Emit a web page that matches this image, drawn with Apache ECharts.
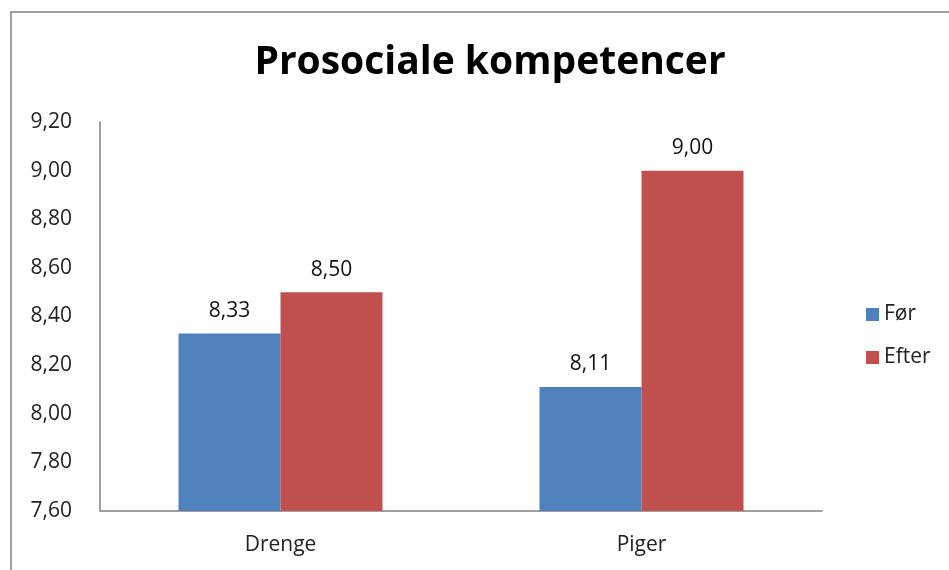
<!DOCTYPE html>
<html>
<head>
<meta charset="utf-8">
<script src="https://cdn.jsdelivr.net/npm/echarts@6/dist/echarts.min.js"></script>
<style>
html,body{margin:0;padding:0;background:#fff;}
#chart{width:949px;height:570px;}
</style>
</head>
<body>
<div id="chart"></div>
<script>
const categories = ['Drenge', 'Piger'];
const seriesNames = ['Før', 'Efter'];
const forValues = [8.33, 8.11];
const efterValues = [8.50, 9.00];
const yTicks = { min: 7.6, max: 9.2, interval: 0.2 };

const fontFam = '"Open Sans", "Noto Sans", sans-serif';
const fmt = v => v.toFixed(2).replace('.', ',');

const chart = echarts.init(document.getElementById('chart'));
chart.setOption({
  animation: false,
  backgroundColor: '#fff',
  textStyle: { fontFamily: fontFam },
  title: {
    text: 'Prosociale kompetencer',
    left: 485, textAlign: 'center', top: 38,
    textStyle: { fontFamily: fontFam, fontWeight: 'bold', fontSize: 39, color: '#000' }
  },
  graphic: [{
    type: 'rect', shape: { x: 11, y: 12, width: 960, height: 600 },
    style: { fill: 'none', stroke: '#a0a0a0', lineWidth: 2 }, silent: true, z: -1
  }],
  legend: {
    orient: 'vertical', left: 861, top: 299, itemGap: 22,
    itemWidth: 13, itemHeight: 13, icon: 'rect',
    textStyle: { fontFamily: fontFam, fontSize: 21, color: '#222' },
    data: seriesNames
  },
  grid: { left: 100, right: 127, top: 122, bottom: 59 },
  xAxis: {
    type: 'category', data: categories,
    axisLine: { lineStyle: { color: '#a0a0a0', width: 2 } },
    axisTick: { show: false },
    axisLabel: { margin: 24, fontSize: 21, color: '#222', fontFamily: fontFam }
  },
  yAxis: {
    type: 'value', min: yTicks.min, max: yTicks.max, interval: yTicks.interval,
    axisLine: { show: true, lineStyle: { color: '#a0a0a0', width: 2 } },
    axisTick: { show: false },
    splitLine: { show: false },
    axisLabel: { margin: 28, fontSize: 21, color: '#222', fontFamily: fontFam, formatter: v => fmt(v) }
  },
  series: [
    {
      name: seriesNames[0], type: 'bar', data: forValues, barWidth: 102, barGap: '0%',
      itemStyle: { color: '#4F81BD' },
      label: { show: true, position: 'top', distance: 12, fontSize: 21, color: '#111', fontFamily: fontFam, formatter: p => fmt(p.value) }
    },
    {
      name: seriesNames[1], type: 'bar', data: efterValues, barWidth: 102, barGap: '0%',
      itemStyle: { color: '#C0504D' },
      label: { show: true, position: 'top', distance: 12, fontSize: 21, color: '#111', fontFamily: fontFam, formatter: p => fmt(p.value) }
    }
  ]
});
</script>
</body>
</html>
